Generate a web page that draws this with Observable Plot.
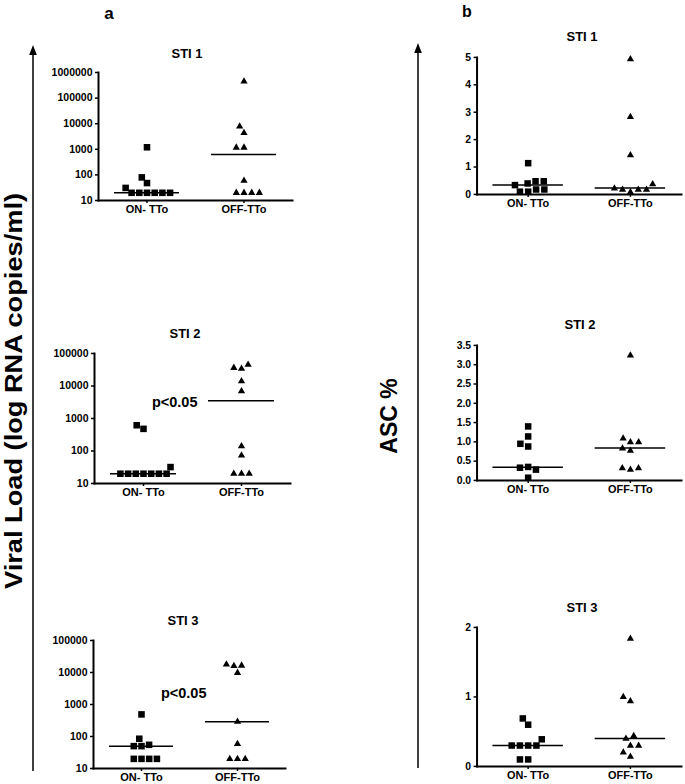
<!DOCTYPE html>
<html><head><meta charset="utf-8">
<script src="https://cdn.jsdelivr.net/npm/d3@7"></script>
<script src="https://cdn.jsdelivr.net/npm/@observablehq/plot@0.6"></script>
<style>
body{margin:0;background:#fff;}
#fig{position:relative;width:685px;height:784px;font-family:"Liberation Sans",Arial,Helvetica,sans-serif;font-weight:bold;color:#000;overflow:hidden;background:#fff}
.pan{position:absolute}
.lbl{position:absolute;transform:translate(-50%,-50%);white-space:nowrap;line-height:1}
</style></head><body><div id="fig"></div>
<script>
// ---------- data ----------
const groups = ["ON- TTo", "OFF-TTo"];
const panelTitles = ["STI 1", "STI 2", "STI 3"];
const columnLetters = ["a", "b"];
const yTitles = ["Viral Load (log RNA copies/ml)", "ASC %"];

const vlTicks1 = [10, 100, 1000, 10000, 100000, 1000000];
const vlTicks23 = [10, 100, 1000, 10000, 100000];
const ascTicks1 = [0, 1, 2, 3, 4, 5];
const ascTicks2 = [0, 0.5, 1, 1.5, 2, 2.5, 3, 3.5];
const ascTicks3 = [0, 1, 2];

// viral load (copies/ml)
const vlSti1On  = [20, 20, 20, 20, 20, 31, 20, 48, 80, 1200];
const vlSti1Off = [20, 20, 20, 20, 60, 1170, 1170, 4400, 7800, 446000];
const vlSti2On  = [20, 20, 20, 20, 20, 20, 20, 32, 480, 620];
const vlSti2Off = [20, 20, 20, 73, 140, 6900, 14000, 34000, 36300, 45000];
const vlSti3On  = [20, 20, 20, 20, 50, 50, 55, 85, 490];
const vlSti3Off = [20, 20, 20, 59, 290, 9800, 16000, 16500, 18000];
const vlMedians = [[20, 630], [20, 3500], [50, 290]];

// ASC %
const ascSti1On  = [0.1, 0.1, 0.18, 0.18, 0.34, 0.40, 0.48, 0.48, 1.14];
const ascSti1Off = [0.08, 0.17, 0.17, 0.17, 0.22, 0.37, 1.43, 2.83, 4.94];
const ascSti2On  = [0.07, 0.35, 0.33, 0.28, 0.88, 0.95, 1.14, 1.40];
const ascSti2Off = [0.28, 0.32, 0.32, 0.77, 0.83, 0.99, 0.99, 1.09, 3.24];
const ascSti3On  = [0.1, 0.1, 0.3, 0.3, 0.3, 0.3, 0.39, 0.6, 0.69];
const ascSti3Off = [0.14, 0.2, 0.3, 0.3, 0.4, 0.44, 0.94, 1.0, 1.84];
const ascMedians = [[0.34, 0.23], [0.34, 0.84], [0.30, 0.40]];

// significance annotations (text, y value) for viral load STI 2 and STI 3
const sigText = ["p<0.05", "p<0.05"];
const sigValue = [3100, 2200];

// ---------- layout ----------
const FONT = '"Liberation Sans", Arial, Helvetica, sans-serif';
const ML = 60, MR = 4, MT = 8, MB = 24;
const fig = document.getElementById("fig");

function panel(cfg) {
  const w = cfg.right - cfg.axisX, h = cfg.bottom - cfg.top;
  const medRows = groups.map((g, i) => ({group: g, median: cfg.med[i]}));
  const marks = [
    Plot.frame({anchor: "left", facet: "super", strokeWidth: 2}),
    Plot.frame({anchor: "bottom", facet: "super", strokeWidth: 2}),
    Plot.axisY({ticks: cfg.ticks, tickFormat: cfg.fmt, tickSize: 3, tickPadding: 3, label: null, fontSize: 10.5, fontWeight: "bold", strokeWidth: 1.5}),
    Plot.axisFx({anchor: "bottom", tickSize: 3, tickPadding: 2, label: null, fontSize: 11, fontWeight: "bold", strokeWidth: 1.5}),
    Plot.ruleY(medRows, {fx: "group", y: "median", insetLeft: 16, insetRight: 16, strokeWidth: 1.5}),
    Plot.dot(cfg.on, Plot.dodgeX({anchor: "middle", padding: cfg.sqPad}, {fx: () => groups[0], y: d => d, r: 3.7, symbol: "square", fill: "black", stroke: "none"})),
    Plot.dot(cfg.off, Plot.dodgeX({anchor: "middle", padding: cfg.triPad}, {fx: () => groups[1], y: d => d, r: 2.7, symbol: "triangle", fill: "black", stroke: "none"}))
  ];
  if (cfg.sig != null) {
    marks.push(Plot.text([cfg.sig], {fx: () => groups[0], y: i => sigValue[i], text: i => sigText[i], frameAnchor: "right", dx: cfg.sigDx, fontSize: 14.5, fontWeight: "bold"}));
  }
  const p = Plot.plot({
    width: ML + w + MR, height: MT + h + MB,
    marginLeft: ML, marginRight: MR, marginTop: MT, marginBottom: MB,
    style: {fontFamily: FONT, fontWeight: "bold", fontSize: "10.5px", background: "transparent", overflow: "visible", color: "black"},
    fx: {domain: groups, padding: 0},
    y: {type: cfg.type, domain: cfg.domain, nice: false},
    marks
  });
  const d = document.createElement("div");
  d.className = "pan";
  d.style.left = (cfg.axisX - ML) + "px";
  d.style.top = (cfg.top - MT) + "px";
  d.appendChild(p);
  fig.appendChild(d);
  const t = document.createElement("div");
  t.className = "lbl";
  t.style.fontSize = "13px";
  t.style.left = cfg.titleX + "px";
  t.style.top = cfg.titleY + "px";
  t.textContent = cfg.title;
  fig.appendChild(t);
}

const fmtInt = d => String(d);
const fmt1 = d3.format(".1f");

panel({title: panelTitles[0], titleX: 187, titleY: 53, axisX: 97, top: 72, bottom: 200, right: 292, type: "log", domain: [10, 1e6], ticks: vlTicks1, fmt: fmtInt, on: vlSti1On, off: vlSti1Off, med: vlMedians[0], sqPad: 0.3, triPad: 2.3});
panel({title: panelTitles[1], titleX: 185, titleY: 333, axisX: 93, top: 353, bottom: 483, right: 290, type: "log", domain: [10, 1e5], ticks: vlTicks23, fmt: fmtInt, on: vlSti2On, off: vlSti2Off, med: vlMedians[1], sqPad: 0.3, triPad: 2.3, sig: 0, sigDx: 5});
panel({title: panelTitles[2], titleX: 183, titleY: 620, axisX: 93, top: 640, bottom: 768, right: 285, type: "log", domain: [10, 1e5], ticks: vlTicks23, fmt: fmtInt, on: vlSti3On, off: vlSti3Off, med: vlMedians[2], sqPad: 0.3, triPad: 2.3, sig: 1, sigDx: 17});
panel({title: panelTitles[0], titleX: 582, titleY: 36, axisX: 477, top: 57, bottom: 195, right: 683, type: "linear", domain: [0, 5], ticks: ascTicks1, fmt: fmtInt, on: ascSti1On, off: ascSti1Off, med: ascMedians[0], sqPad: 0.9, triPad: 2.9});
panel({title: panelTitles[1], titleX: 580, titleY: 324, axisX: 476, top: 345, bottom: 481, right: 683, type: "linear", domain: [0, 3.5], ticks: ascTicks2, fmt: fmt1, on: ascSti2On, off: ascSti2Off, med: ascMedians[1], sqPad: 0.9, triPad: 2.9});
panel({title: panelTitles[2], titleX: 582, titleY: 607, axisX: 476, top: 627, bottom: 767, right: 683, type: "linear", domain: [0, 2], ticks: ascTicks3, fmt: fmtInt, on: ascSti3On, off: ascSti3Off, med: ascMedians[2], sqPad: 0.9, triPad: 2.9});

// column letters
[[109, 13, 17], [467, 12, 16]].forEach(([x, y, s], i) => {
  const t = document.createElement("div");
  t.className = "lbl";
  t.style.left = x + "px"; t.style.top = y + "px"; t.style.fontSize = s + "px";
  t.textContent = columnLetters[i];
  fig.appendChild(t);
});

// decorative arrows and big axis titles
const svg = d3.select(fig).append("svg")
  .attr("width", 685).attr("height", 784)
  .style("position", "absolute").style("left", 0).style("top", 0)
  .style("pointer-events", "none");
[[33, 45, 771], [418, 43, 768]].forEach(([x, y0, y1]) => {
  svg.append("line").attr("x1", x).attr("x2", x).attr("y1", y0 + 6).attr("y2", y1).attr("stroke", "black").attr("stroke-width", 1.5);
  svg.append("path").attr("d", `M${x},${y0}L${x - 3.8},${y0 + 10}L${x + 3.8},${y0 + 10}Z`).attr("fill", "black");
});
svg.append("text").attr("transform", "translate(14,391) rotate(-90)")
  .attr("text-anchor", "middle").attr("dominant-baseline", "central")
  .attr("font-family", FONT).attr("font-weight", "bold").attr("font-size", 23)
  .attr("textLength", 396).attr("lengthAdjust", "spacingAndGlyphs")
  .text(yTitles[0]);
svg.append("text").attr("transform", "translate(389,416) rotate(-90)")
  .attr("text-anchor", "middle").attr("dominant-baseline", "central")
  .attr("font-family", FONT).attr("font-weight", "bold").attr("font-size", 23)
  .text(yTitles[1]);
</script></body></html>
